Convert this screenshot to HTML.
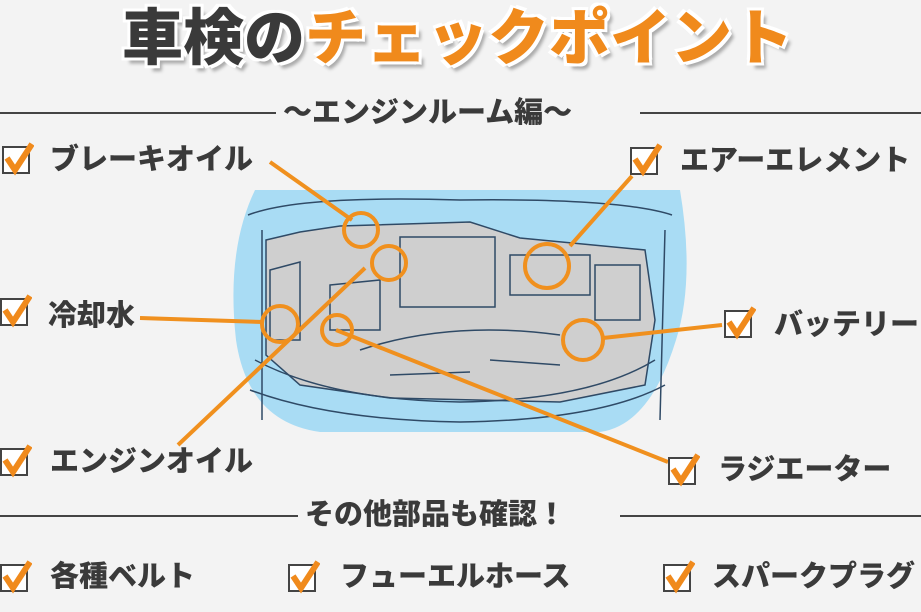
<!DOCTYPE html>
<html><head><meta charset="utf-8"><style>
body{margin:0;width:921px;height:612px;overflow:hidden;background:#f3f3f3;font-family:"Liberation Sans","Noto Sans CJK JP",sans-serif;position:relative;color:#3a3a3a}
.t{position:absolute;font-weight:900;white-space:nowrap}
.lbl{font-size:29px;line-height:30px}
.cb{position:absolute;width:24px;height:24px;border:2px solid #444;background:#fff}
.cb svg{position:absolute;left:-2px;top:-8px}
</style></head><body>
<div class="t" style="left:122px;top:0px;font-size:61px;line-height:76px;text-shadow:3px 3px 0 #fff,-3px -3px 0 #fff,3px -3px 0 #fff,-3px 3px 0 #fff,5px 6px 3px #aaa">車検の<span style="color:#f08a1c">チェックポイント</span></div>
<div style="position:absolute;left:0;top:112px;width:276px;height:2px;background:#444"></div>
<div style="position:absolute;left:640px;top:112px;width:281px;height:2px;background:#444"></div>
<div class="t" style="left:283px;top:96px;font-size:29px;line-height:34px">〜エンジンルーム編〜</div>
<div style="position:absolute;left:0;top:515px;width:298px;height:2px;background:#444"></div>
<div style="position:absolute;left:620px;top:515px;width:301px;height:2px;background:#444"></div>
<div class="t" style="left:305px;top:498px;font-size:29px;line-height:34px">その他部品も確認！</div>

<svg width="921" height="612" style="position:absolute;left:0;top:0">
<path d="M255 190 L680 190 Q695 280 676 340 Q650 425 600 432 L320 432 Q248 422 236 340 Q226 250 255 190Z" fill="#a9dcf4"/>
<path d="M266 240 L300 232 L340 226 L470 222 L520 238 L645 250 L655 320 L645 385 L560 402 L390 398 L300 385 L266 355Z" fill="#cfcfcf" stroke="#2f4a66" stroke-width="1.5"/>
<g fill="none" stroke="#2f4a66" stroke-width="1.5">
<path d="M248 215 Q300 195 460 200 Q620 198 672 215"/>
<path d="M250 390 Q330 420 460 422 Q600 420 665 385"/>
<path d="M255 360 Q330 400 460 402 Q590 400 655 360"/>
<rect x="400" y="237" width="95" height="70"/>
<rect x="510" y="255" width="80" height="40"/>
<rect x="595" y="265" width="45" height="55"/>
<path d="M270 270 L300 262 L300 340 L270 340Z"/>
<path d="M330 285 L380 280 L380 330 L330 330Z"/>
<path d="M360 350 Q450 320 560 335"/>
<path d="M390 375 L470 372 M490 360 L560 365"/>
<path d="M262 230 L262 420 M665 230 L660 420"/>
</g>
<g fill="none" stroke="#f0901e" stroke-width="4">
<path d="M270 162 L352 220 M632 176 L570 246 M140 318 L263 322 M178 445 L365 268 M336 330 L668 462 M603 338 L722 325"/>
<circle cx="361" cy="230" r="17"/><circle cx="389" cy="263" r="17"/><circle cx="547" cy="266" r="22"/>
<circle cx="280" cy="324" r="18"/><circle cx="337" cy="330" r="15"/><circle cx="583" cy="340" r="20"/>
</g>
</svg>

<div class="cb" style="left:2px;top:146px"><svg width="32" height="36"><path d="M5 18 L13 30 L30 4" fill="none" stroke="#f08a1c" stroke-width="6"/></svg></div>
<div class="t lbl" style="left:50px;top:145px">ブレーキオイル</div>
<div class="cb" style="left:630px;top:147px"><svg width="32" height="36"><path d="M5 18 L13 30 L30 4" fill="none" stroke="#f08a1c" stroke-width="6"/></svg></div>
<div class="t lbl" style="left:680px;top:146px">エアーエレメント</div>
<div class="cb" style="left:0px;top:298px"><svg width="32" height="36"><path d="M5 18 L13 30 L30 4" fill="none" stroke="#f08a1c" stroke-width="6"/></svg></div>
<div class="t lbl" style="left:48px;top:301px">冷却水</div>
<div class="cb" style="left:724px;top:310px"><svg width="32" height="36"><path d="M5 18 L13 30 L30 4" fill="none" stroke="#f08a1c" stroke-width="6"/></svg></div>
<div class="t lbl" style="left:774px;top:310px">バッテリー</div>
<div class="cb" style="left:0px;top:448px"><svg width="32" height="36"><path d="M5 18 L13 30 L30 4" fill="none" stroke="#f08a1c" stroke-width="6"/></svg></div>
<div class="t lbl" style="left:50px;top:447px">エンジンオイル</div>
<div class="cb" style="left:668px;top:457px"><svg width="32" height="36"><path d="M5 18 L13 30 L30 4" fill="none" stroke="#f08a1c" stroke-width="6"/></svg></div>
<div class="t lbl" style="left:718px;top:455px">ラジエーター</div>
<div class="cb" style="left:0px;top:564px"><svg width="32" height="36"><path d="M5 18 L13 30 L30 4" fill="none" stroke="#f08a1c" stroke-width="6"/></svg></div>
<div class="t lbl" style="left:50px;top:562px">各種ベルト</div>
<div class="cb" style="left:288px;top:564px"><svg width="32" height="36"><path d="M5 18 L13 30 L30 4" fill="none" stroke="#f08a1c" stroke-width="6"/></svg></div>
<div class="t lbl" style="left:340px;top:562px">フューエルホース</div>
<div class="cb" style="left:663px;top:564px"><svg width="32" height="36"><path d="M5 18 L13 30 L30 4" fill="none" stroke="#f08a1c" stroke-width="6"/></svg></div>
<div class="t lbl" style="left:712px;top:562px">スパークプラグ</div>
</body></html>
